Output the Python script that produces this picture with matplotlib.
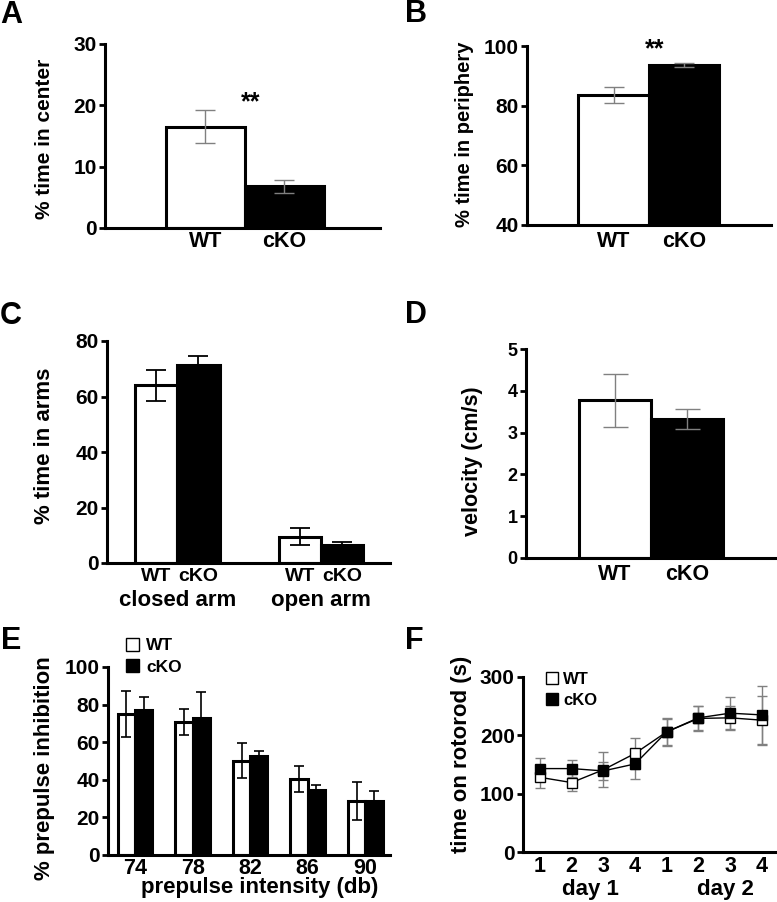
import matplotlib
matplotlib.use('Agg')
import matplotlib.pyplot as plt
from matplotlib.patches import Patch
from matplotlib.lines import Line2D
import numpy as np

plt.rcParams['font.family'] = ['Liberation Sans', 'DejaVu Sans']
plt.rcParams['font.weight'] = 'bold'
plt.rcParams['axes.labelweight'] = 'bold'

# data
groups = ['WT', 'cKO']

center_mean = [16.5, 6.8]
center_err = [2.7, 1.1]

periph_mean = [83.5, 93.6]
periph_err = [2.7, 0.6]

arm_names = ['closed arm', 'open arm']
arm_wt = [64.0, 9.5]
arm_wt_err = [5.7, 3.0]
arm_cko = [71.5, 6.5]
arm_cko_err = [3.0, 1.2]

vel_mean = [3.77, 3.33]
vel_err = [0.63, 0.24]

ppi_db = ['74', '78', '82', '86', '90']
ppi_wt = [75.0, 70.7, 50.1, 40.6, 28.6]
ppi_wt_err = [12.0, 7.0, 9.3, 7.0, 10.2]
ppi_cko = [77.0, 73.0, 52.4, 34.6, 28.8]
ppi_cko_err = [7.0, 13.5, 2.7, 2.8, 5.2]

trial_labels = ['1', '2', '3', '4', '1', '2', '3', '4']
rotor_wt = [128, 119, 141, 169, 206, 229, 230, 226]
rotor_wt_err = [18, 14, 30, 27, 24, 22, 20, 42]
rotor_cko = [143, 143, 139, 151, 206, 230, 238, 235]
rotor_cko_err = [19, 15, 16, 26, 22, 20, 27, 50]

W, H = 777, 902
fig = plt.figure(figsize=(W / 100, H / 100), dpi=100)


def make_ax(l, r, t, b, ysize=15, xsize=15.5, xpad=2):
    ax = fig.add_axes([l / W, 1 - b / H, (r - l) / W, (b - t) / H])
    for s in ['top', 'right']:
        ax.spines[s].set_visible(False)
    for s in ['left', 'bottom']:
        ax.spines[s].set_linewidth(2.2)
    ax.tick_params(axis='y', direction='out', length=4, width=2, labelsize=ysize, pad=2)
    ax.tick_params(axis='x', length=0, labelsize=xsize, pad=xpad)
    return ax


def fig_ylabel(text, x, y, size=15):
    fig.text(x / W, 1 - y / H, text, rotation=90, ha='center', va='center',
             fontsize=size, fontweight='bold')


def letter(ch, x, y):
    fig.text(x / W, 1 - y / H, ch, ha='center', va='center', fontsize=22, fontweight='bold')


def two_bars(ax, means, errs, ecolor, cap):
    x = np.arange(len(means))
    ax.bar(x, means, width=1.0, color=['white', 'black'], edgecolor='black', linewidth=2.2, zorder=2)
    ax.errorbar(x, means, yerr=errs, fmt='none', ecolor=ecolor, elinewidth=1, capsize=cap, capthick=1, zorder=3)
    ax.set_xticks(x)
    ax.set_xticklabels(groups, fontweight='bold')


# A
axA = make_ax(105, 380, 44, 228, xpad=2)
two_bars(axA, center_mean, center_err, 'gray', 7)
axA.set_xlim(-1.27, 2.215)
axA.set_ylim(0, 30)
axA.set_yticks([0, 10, 20, 30])
axA.text(0.57, 20.5, '**', ha='center', va='center', fontsize=18, fontweight='bold')
fig_ylabel('% time in center', 45, 139, size=15)
letter('A', 11, 15)

# B
axB = make_ax(527, 771, 46, 225, xpad=4)
two_bars(axB, periph_mean, periph_err, 'gray', 7)
axB.set_xlim(-1.227, 2.234)
axB.set_ylim(40, 100)
axB.set_yticks([40, 60, 80, 100])
axB.text(0.59, 99.0, '**', ha='center', va='center', fontsize=18, fontweight='bold')
fig_ylabel('% time in periphery', 465, 134, size=14.5)
letter('B', 416, 14)

# C
axC = make_ax(107, 390, 341, 563, xsize=14, xpad=3.5)
gx = np.arange(len(arm_names))
bw = 0.293
axC.bar(gx - bw / 2, arm_wt, width=bw, color='white', edgecolor='black', linewidth=2.2, zorder=2)
axC.bar(gx + bw / 2, arm_cko, width=bw, color='black', edgecolor='black', linewidth=2.2, zorder=2)
axC.errorbar(gx - bw / 2, arm_wt, yerr=arm_wt_err, fmt='none', ecolor='black', elinewidth=1.3, capsize=7, capthick=1.3, zorder=3)
axC.errorbar(gx + bw / 2, arm_cko, yerr=arm_cko_err, fmt='none', ecolor='black', elinewidth=1.3, capsize=7, capthick=1.3, zorder=3)
axC.set_xticks(np.concatenate([gx - bw / 2, gx + bw / 2]))
axC.set_xticklabels(['WT'] * len(gx) + ['cKO'] * len(gx), fontweight='bold')
axC.set_xlim(-0.491, 1.481)
axC.set_ylim(0, 80)
axC.set_yticks([0, 20, 40, 60, 80])
for g, name in zip(gx, arm_names):
    axC.text(g, -0.167, name, transform=axC.get_xaxis_transform(), ha='center', va='center',
             fontsize=16, fontweight='bold')
fig_ylabel('% time in arms', 45, 446, size=16)
letter('C', 11, 316)

# D
axD = make_ax(526, 777, 349, 558, ysize=13, xpad=4)
two_bars(axD, vel_mean, vel_err, 'gray', 9)
axD.set_xlim(-1.236, 2.25)
axD.set_ylim(0, 5)
axD.set_yticks([0, 1, 2, 3, 4, 5])
fig_ylabel('velocity (cm/s)', 472, 461, size=15.5)
letter('D', 416, 315)

# E
axE = make_ax(108, 390, 667, 855, xpad=2)
ex = np.arange(len(ppi_db))
ew = 0.3
axE.bar(ex - ew / 2, ppi_wt, width=ew, color='white', edgecolor='black', linewidth=2.2, zorder=2)
axE.bar(ex + ew / 2, ppi_cko, width=ew, color='black', edgecolor='black', linewidth=2.2, zorder=2)
axE.errorbar(ex - ew / 2, ppi_wt, yerr=ppi_wt_err, fmt='none', ecolor='black', elinewidth=1.2, capsize=3.3, capthick=1.2, zorder=3)
axE.errorbar(ex + ew / 2, ppi_cko, yerr=ppi_cko_err, fmt='none', ecolor='black', elinewidth=1.2, capsize=3.3, capthick=1.2, zorder=3)
axE.set_xticks(ex)
axE.set_xticklabels(ppi_db, fontweight='bold')
axE.set_xlim(-0.47, 4.43)
axE.set_ylim(0, 100)
axE.set_yticks([0, 20, 40, 60, 80, 100])
axE.set_xlabel('prepulse intensity (db)', fontsize=16, fontweight='bold')
axE.xaxis.set_label_coords(0.539, -0.118)
axE.legend(handles=[Patch(facecolor='white', edgecolor='black', linewidth=1),
                    Patch(facecolor='black', edgecolor='black', linewidth=1)],
           labels=groups, loc='upper left', bbox_to_anchor=(126 / W, 1 - 638 / H),
           bbox_transform=fig.transFigure, frameon=False, handlelength=0.75, handleheight=0.75,
           handletextpad=0.4, labelspacing=0.35, borderpad=0, borderaxespad=0,
           prop={'weight': 'bold', 'size': 12.5})
fig_ylabel('% prepulse inhibition', 45, 768, size=16)
letter('E', 11, 641)

# F
axF = make_ax(523, 777, 677, 852, xpad=3)
fx = np.arange(1, len(trial_labels) + 1)
axF.errorbar(fx, rotor_wt, yerr=rotor_wt_err, fmt='none', ecolor='gray', elinewidth=1, capsize=3.7, capthick=1, zorder=2)
axF.errorbar(fx, rotor_cko, yerr=rotor_cko_err, fmt='none', ecolor='gray', elinewidth=1, capsize=3.7, capthick=1, zorder=2)
axF.plot(fx, rotor_wt, color='black', lw=1, marker='s', ms=7.5, mfc='white', mec='black', mew=1, zorder=3)
axF.plot(fx, rotor_cko, color='black', lw=1, marker='s', ms=7.5, mfc='black', mec='black', mew=1, zorder=4)
axF.set_xticks(fx)
axF.set_xticklabels(trial_labels, fontweight='bold')
axF.set_xlim(0.464, 8.48)
axF.set_ylim(0, 300)
axF.set_yticks([0, 100, 200, 300])
for pos, name in [(2.58, 'day 1'), (6.85, 'day 2')]:
    axF.text(pos, -0.215, name, transform=axF.get_xaxis_transform(), ha='center', va='center',
             fontsize=16, fontweight='bold')
axF.legend(handles=[Line2D([], [], ls='none', marker='s', ms=8, mfc='white', mec='black'),
                    Line2D([], [], ls='none', marker='s', ms=8, mfc='black', mec='black')],
           labels=groups, loc='upper left', bbox_to_anchor=(545 / W, 1 - 672 / H),
           bbox_transform=fig.transFigure, frameon=False, handlelength=0.8,
           handletextpad=0.3, labelspacing=0.35, borderpad=0, borderaxespad=0,
           prop={'weight': 'bold', 'size': 12})
fig_ylabel('time on rotorod (s)', 462, 754, size=16)
letter('F', 414, 641)

fig.savefig('out.png', dpi=100)
